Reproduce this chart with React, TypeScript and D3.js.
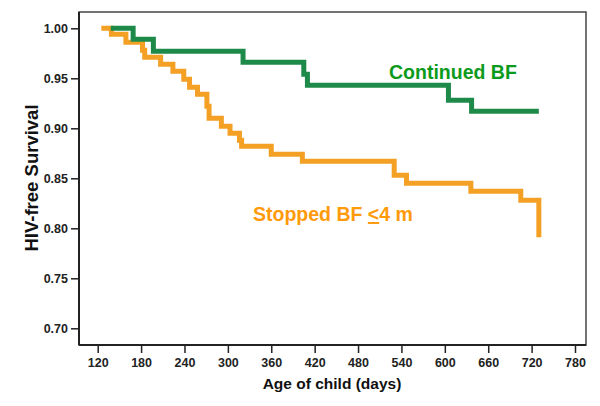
import React, { useEffect, useRef } from "react";
import * as d3 from "d3";

const xTicks = [120, 180, 240, 300, 360, 420, 480, 540, 600, 660, 720, 780];
const yTicks = [0.7, 0.75, 0.8, 0.85, 0.9, 0.95, 1.0];

const continuedDays = [138, 169, 197, 321, 405, 410, 605, 637, 730];
const continuedSurv = [1.0, 0.989, 0.977, 0.966, 0.954, 0.943, 0.928, 0.917, 0.917];

const stoppedDays = [125, 139, 159, 182, 185, 207, 224, 239, 247, 258, 271, 274, 291, 303, 316, 319, 360, 403, 530, 547, 636, 705, 730];
const stoppedSurv = [1.0, 0.994, 0.986, 0.978, 0.971, 0.964, 0.957, 0.949, 0.941, 0.934, 0.922, 0.91, 0.902, 0.895, 0.888, 0.882, 0.874, 0.867, 0.853, 0.845, 0.837, 0.828, 0.791];

const W = 600;
const H = 406;
const frame = { left: 79, top: 12, right: 586, bottom: 345 };

export default function App() {
  const ref = useRef<SVGSVGElement | null>(null);

  useEffect(() => {
    const svg = d3.select(ref.current);
    svg.selectAll("*").remove();

    const x = d3.scaleLinear().domain([120, 780]).range([97.7, 575]);
    const y = d3.scaleLinear().domain([0.7, 1.0]).range([328.3, 28.3]);

    svg
      .append("rect")
      .attr("x", frame.left)
      .attr("y", frame.top)
      .attr("width", frame.right - frame.left)
      .attr("height", frame.bottom - frame.top)
      .attr("fill", "white")
      .attr("stroke", "#444")
      .attr("stroke-width", 1.5);

    const font = "'Liberation Sans', Arial, sans-serif";

    const xAxis = svg
      .append("g")
      .attr("transform", `translate(0,${frame.bottom})`)
      .call(d3.axisBottom(x).tickValues(xTicks).tickSize(8).tickSizeOuter(0).tickPadding(5).tickFormat(d3.format("d")));
    xAxis.select(".domain").remove();
    xAxis.selectAll("line").attr("stroke", "#222").attr("stroke-width", 1.5);
    xAxis
      .selectAll("text")
      .attr("font-family", font)
      .attr("font-weight", "bold")
      .attr("font-size", 12.5)
      .attr("fill", "#222");

    const yAxis = svg
      .append("g")
      .attr("transform", `translate(${frame.left},0)`)
      .call(d3.axisLeft(y).tickValues(yTicks).tickSize(8).tickSizeOuter(0).tickPadding(3).tickFormat(d3.format(".2f")));
    yAxis.select(".domain").remove();
    yAxis.selectAll("line").attr("stroke", "#222").attr("stroke-width", 1.5);
    yAxis
      .selectAll("text")
      .attr("font-family", font)
      .attr("font-weight", "bold")
      .attr("font-size", 12.5)
      .attr("fill", "#222");

    svg
      .append("line")
      .attr("x1", frame.left)
      .attr("x2", frame.left)
      .attr("y1", frame.top)
      .attr("y2", frame.bottom)
      .attr("stroke", "#222")
      .attr("stroke-width", 2);
    svg
      .append("line")
      .attr("x1", frame.left)
      .attr("x2", frame.right)
      .attr("y1", frame.bottom)
      .attr("y2", frame.bottom)
      .attr("stroke", "#222")
      .attr("stroke-width", 2);

    const line = d3
      .line<[number, number]>()
      .x((d) => x(d[0]))
      .y((d) => y(d[1]))
      .curve(d3.curveStepAfter);

    const stopped: [number, number][] = stoppedDays.map((d, i) => [d, stoppedSurv[i]]);
    const continued: [number, number][] = continuedDays.map((d, i) => [d, continuedSurv[i]]);

    svg
      .append("path")
      .attr("d", line(stopped))
      .attr("fill", "none")
      .attr("stroke", "#f4a024")
      .attr("stroke-width", 5)
      .attr("stroke-linejoin", "miter");

    svg
      .append("path")
      .attr("d", line(continued))
      .attr("fill", "none")
      .attr("stroke", "#1e8a4a")
      .attr("stroke-width", 5)
      .attr("stroke-linejoin", "miter");

    svg
      .append("text")
      .attr("x", 389)
      .attr("y", 79)
      .attr("font-family", font)
      .attr("font-weight", "bold")
      .attr("font-size", 19.5)
      .attr("fill", "#0c9a1c")
      .text("Continued BF");

    const st = svg
      .append("text")
      .attr("x", 253)
      .attr("y", 221)
      .attr("font-family", font)
      .attr("font-weight", "bold")
      .attr("font-size", 19.5)
      .attr("fill", "#ff9a0a");
    st.append("tspan").text("Stopped BF ");
    st.append("tspan").style("text-decoration", "underline").text("<");
    st.append("tspan").text("4 m");

    svg
      .append("text")
      .attr("x", 332)
      .attr("y", 389)
      .attr("text-anchor", "middle")
      .attr("font-family", font)
      .attr("font-weight", "bold")
      .attr("font-size", 15.5)
      .attr("fill", "#111")
      .text("Age of child (days)");

    svg
      .append("text")
      .attr("transform", `translate(38,178) rotate(-90)`)
      .attr("text-anchor", "middle")
      .attr("font-family", font)
      .attr("font-weight", "bold")
      .attr("font-size", 18.5)
      .attr("fill", "#111")
      .text("HIV-free Survival");
  }, []);

  return (
    <svg
      ref={ref}
      width={W}
      height={H}
      style={{ position: "absolute", left: 0, top: 0, display: "block", background: "white" }}
    />
  );
}
